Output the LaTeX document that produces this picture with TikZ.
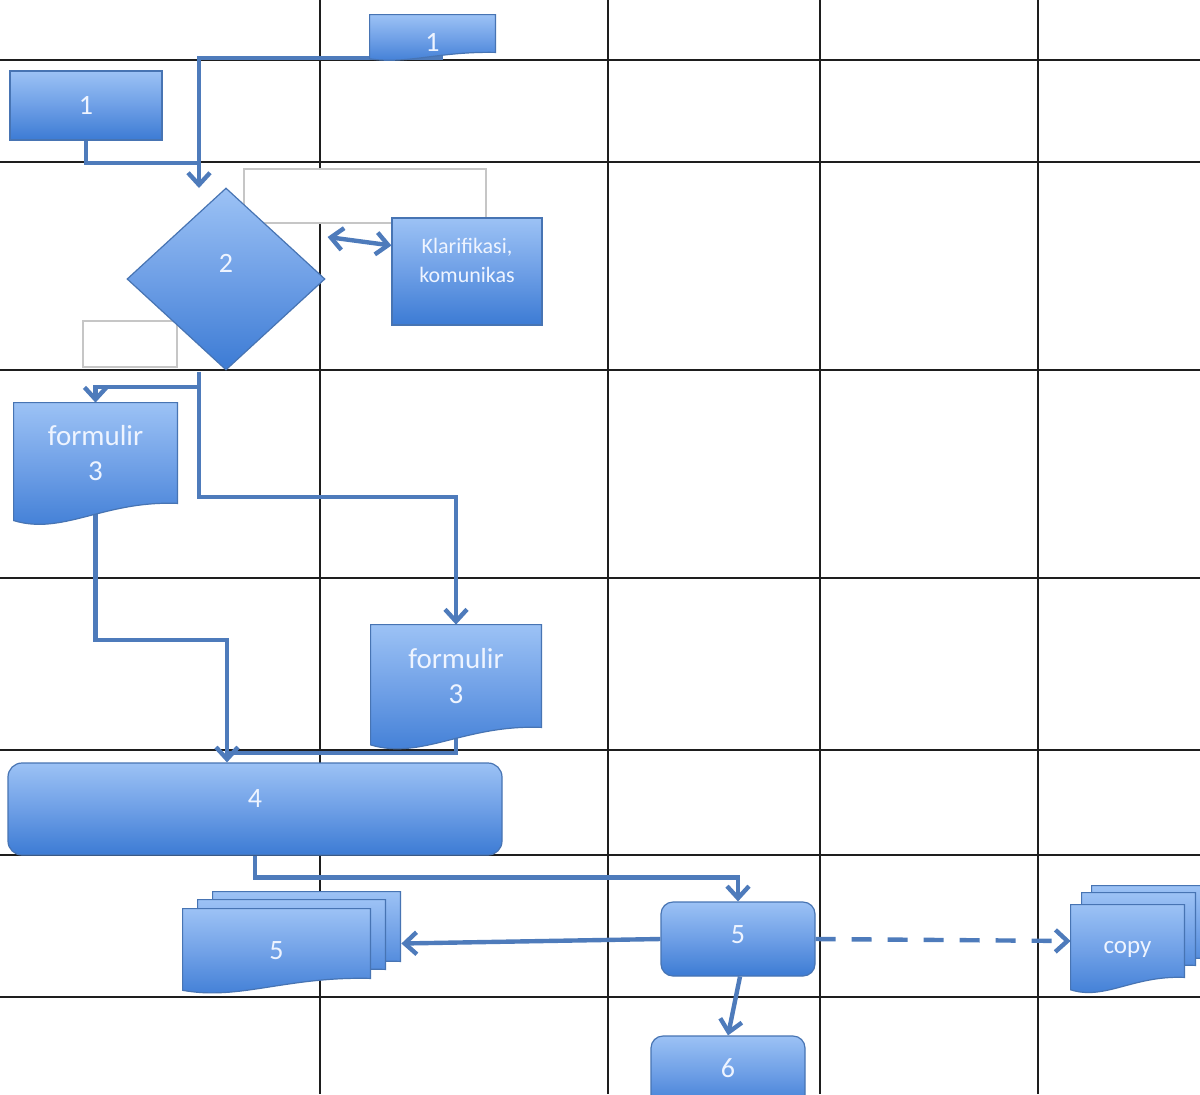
\documentclass[tikz,border=0pt]{standalone}
\usepackage{fontspec}
\setmainfont{Carlito}
\usetikzlibrary{shapes.geometric,arrows.meta,calc}
\definecolor{ftop}{HTML}{9CC2F5}
\definecolor{fmid}{HTML}{6E9FE6}
\definecolor{fbot}{HTML}{3C7BD4}
\definecolor{edgec}{HTML}{4774B3}
\definecolor{connc}{HTML}{4E7BBB}
\definecolor{txtc}{HTML}{EEF4FF}
\definecolor{gridc}{HTML}{1E1E1E}
\pgfdeclarelayer{bg}\pgfdeclarelayer{lconn}\pgfdeclarelayer{lshape}
\pgfsetlayers{bg,lconn,lshape,main}
\tikzset{
 gridline/.style={draw=gridc, line width=1.4pt},
 fillgrad/.style={top color=ftop, bottom color=fbot, middle color=fmid},
 boxnode/.style={draw=edgec, line width=0.6pt, fillgrad, text=txtc, inner sep=0pt, font=\fontsize{14pt}{17pt}\selectfont},
 procnode/.style={boxnode, rounded corners=6pt},
 docnode/.style={inner sep=0pt, text=txtc, align=center, font=\fontsize{14.5pt}{17.5pt}\selectfont},
 docfill/.style={draw=edgec, line width=0.6pt, fillgrad},
 blank/.style={draw=gray!45, line width=0.6pt, fill=white, inner sep=0pt},
 conn/.style={draw=connc, line width=2.2pt},
 lbl/.style={text=txtc, inner sep=0pt, font=\fontsize{14pt}{17.5pt}\selectfont},
}
\newcommand\docshape[3]{%
 \path[docfill] let \p1=($(#1.north west)+(#2,#3)$), \p2=($(#1.south east)+(#2,#3)$),
   \n1={\x2-\x1}, \n2={\y1-\y2} in
   (\x1,\y1) -- (\x2,\y1) -- (\x2,\y2)
   .. controls (\x1+0.55*\n1,\y2+0.03*\n2) and (\x1+0.3*\n1,\y2-0.32*\n2) .. (\x1,\y2-0.17*\n2) -- cycle;}
\begin{document}
\begin{tikzpicture}[x=0.5pt,y=-0.5pt, >={Straight Barb[length=6pt,width=11pt]}]
\useasboundingbox (0,0) rectangle (1200,1094);
\clip (0,0) rectangle (1200,1094);
\begin{pgfonlayer}{bg}
 \fill[white] (0,0) rectangle (1200,1094);
 \foreach \x in {320,608,820,1038} \draw[gridline] (\x,0) -- (\x,1094);
 \foreach \y in {60,162,370,578,750,855,997} \draw[gridline] (0,\y) -- (1200,\y);
\end{pgfonlayer}

% nodes
\node[boxnode, minimum width=76pt, minimum height=34.5pt] (n1b) at (86,105.5) {1};
\node[docnode, minimum width=62.5pt, minimum height=18.5pt, label={[lbl,yshift=-4.5pt]center:1}] (n1a) at (432.5,33.5) {};
\node[blank, minimum width=121pt, minimum height=27pt] (wb1) at (365,196) {};
\node[blank, minimum width=47pt, minimum height=23pt] (wb2) at (130,344) {};
\node[boxnode, diamond, minimum width=99pt, minimum height=91pt, label={[lbl,yshift=8pt]center:2}] (d2) at (226,279) {};
\node[boxnode, minimum width=75pt, minimum height=53.5pt, label={[lbl,align=center,font=\fontsize{11pt}{14.5pt}\selectfont,yshift=5.5pt]center:{Klarifikasi,\\komunikas}}] (kl) at (467,271.5) {};
\node[docnode, minimum width=81.5pt, minimum height=50pt] (f3a) at (95.5,453) {formulir\\3};
\node[docnode, minimum width=85pt, minimum height=51pt] (f3b) at (456,676) {formulir\\3};
\node[procnode, rounded corners=7pt, minimum width=247pt, minimum height=46pt, label={[lbl,yshift=5.5pt]center:4}] (n4) at (255,809) {};
\node[procnode, minimum width=77pt, minimum height=37pt, label={[lbl,yshift=2pt]center:5}] (n5) at (738,939) {};
\node[docnode, minimum width=93.5pt, minimum height=34.5pt, label={[lbl,yshift=-3.5pt]center:5}] (m5) at (276.5,943.5) {};
\node[docnode, minimum width=56.5pt, minimum height=36pt, label={[lbl,yshift=-4pt,font=\fontsize{12.5pt}{15pt}\selectfont]center:copy}] (cp) at (1127.5,941) {};
\node[procnode, minimum width=77pt, minimum height=37pt, label={[lbl,yshift=2.5pt]center:6}] (n6) at (728,1073) {};

\begin{pgfonlayer}{lshape}
 \docshape{n1a}{0}{0}
 \docshape{f3a}{0}{0}
 \docshape{f3b}{0}{0}
 \docshape{m5}{30}{-17}
 \docshape{m5}{15}{-9}
 \docshape{m5}{0}{0}
 \docshape{cp}{21}{-19}
 \docshape{cp}{11}{-12}
 \docshape{cp}{0}{0}
\end{pgfonlayer}

\coordinate (ja) at (199,58);
\coordinate (jb) at (199,188);
\coordinate (jc) at (199,163);
\coordinate (je) at (199,497);
\coordinate (jf) at (199,387);
\coordinate (jg) at (227,640);
\coordinate (jh) at (227,753);

\begin{pgfonlayer}{lconn}
 \draw[conn,->] ($(n1a.south)+(8,0)$) |- (ja) -- (jb);
 \draw[conn] (n1b.south) |- (jc);
 \draw[conn,->] ($(d2.south)+(-27,1)$) -- (je) -| (f3b.north);
 \draw[conn,->] (jf) -| (f3a.north);
 \draw[conn,->] (f3a.south) |- (jg) -- (jg |- n4.north);
 \draw[conn] (f3b.south) |- (jh);
 \draw[conn,->] (n4.south) -- ++(0,22) -| (n5.north);
 \draw[conn,->] (n5.west) -- ($(m5.east)+(31,0)$);
 \draw[conn,->,dash pattern=on 10pt off 8pt] (n5.east) -- (cp.west);
 \draw[conn,->] ($(n5.south)+(2,0)$) -- (n6.north);
 \draw[conn,<->] ($(d2.east)+(2,-42)$) -- ($(kl.west)+(0,-26)$);
\end{pgfonlayer}
\end{tikzpicture}
\end{document}
